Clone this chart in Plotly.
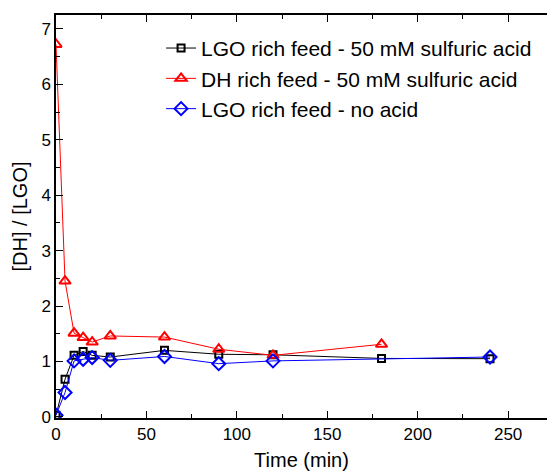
import plotly.graph_objects as go

time_black = [0, 5, 10, 15, 20, 30, 60, 90, 120, 180, 240]
ratio_black = [0.03, 0.68, 1.11, 1.18, 1.11, 1.08, 1.20, 1.13, 1.12, 1.055, 1.05]

time_red = [0, 5, 10, 15, 20, 30, 60, 90, 120, 180]
ratio_red = [6.72, 2.45, 1.51, 1.43, 1.35, 1.46, 1.44, 1.22, 1.11, 1.31]

time_blue = [0, 5, 10, 15, 20, 30, 60, 90, 120, 240]
ratio_blue = [0.03, 0.44, 1.01, 1.04, 1.07, 1.02, 1.09, 0.96, 1.01, 1.08]

names = ["LGO rich feed - 50 mM sulfuric acid",
         "DH rich feed - 50 mM sulfuric acid",
         "LGO rich feed - no acid"]

FONT = "Liberation Sans, Arial, sans-serif"

fig = go.Figure()
fig.add_trace(go.Scatter(x=time_black, y=ratio_black, name=names[0], mode="lines+markers",
                         line=dict(color="black", width=1),
                         marker=dict(symbol="square-open", size=7, color="black", line=dict(width=2))))
fig.add_trace(go.Scatter(x=time_red, y=ratio_red, name=names[1], mode="lines+markers",
                         line=dict(color="#FF0000", width=1),
                         marker=dict(symbol="triangle-up-open", size=10, color="#FF0000", line=dict(width=2))))
fig.add_trace(go.Scatter(x=time_blue, y=ratio_blue, name=names[2], mode="lines+markers",
                         line=dict(color="#0000FF", width=1),
                         marker=dict(symbol="diamond-open", size=10, color="#0000FF", line=dict(width=2))))

fig.update_layout(
    width=547, height=476,
    margin=dict(l=56, r=0, t=15, b=58),
    paper_bgcolor="white", plot_bgcolor="white",
    font=dict(family=FONT, color="black", size=17),
    showlegend=True,
    legend=dict(x=0.214, y=0.968, xanchor="left", yanchor="top",
                font=dict(size=21, family=FONT), bgcolor="rgba(0,0,0,0)",
                tracegroupgap=0),
    xaxis=dict(range=[0, 271.5], tickmode="linear", tick0=0, dtick=50,
               ticks="inside", ticklen=7, tickwidth=1, tickcolor="black",
               minor=dict(ticks="inside", ticklen=4, dtick=25, tickcolor="black"),
               showline=True, linecolor="black", linewidth=1.5, mirror="allticks",
               showgrid=False, zeroline=False,
               tickfont=dict(size=17),
               title=dict(text="Time (min)", font=dict(size=20), standoff=10)),
    yaxis=dict(range=[-0.02, 7.25], tickmode="linear", tick0=0, dtick=1,
               ticks="inside", ticklen=7, tickwidth=1, tickcolor="black",
               minor=dict(ticks="inside", ticklen=4, dtick=0.5, tickcolor="black"),
               showline=True, linecolor="black", linewidth=1.5, mirror=False,
               showgrid=False, zeroline=False,
               tickfont=dict(size=17),
               title=dict(text="[DH] / [LGO]", font=dict(size=20), standoff=8)),
)

fig.write_html("out.html")
